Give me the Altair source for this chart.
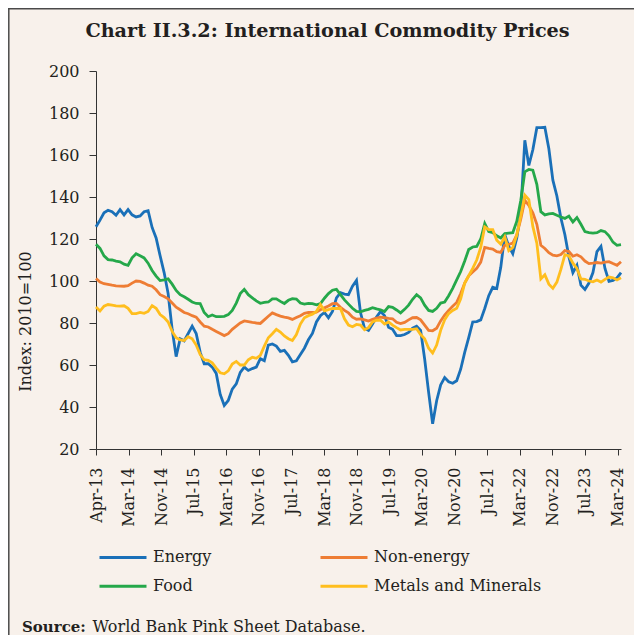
import altair as alt
import pandas as pd

months = [f"{m}-{y}" for y in range(13, 25) for m in
          ["Jan", "Feb", "Mar", "Apr", "May", "Jun", "Jul", "Aug", "Sep", "Oct", "Nov", "Dec"]][3:135]

series_names = ["Energy", "Non-energy", "Food", "Metals and Minerals"]
series_colors = ["#1a70b8", "#ee7d34", "#25a84a", "#ffbe1e"]

tick_labels = ["Apr-13", "Mar-14", "Nov-14", "Jul-15", "Mar-16", "Nov-16", "Jul-17", "Mar-18",
               "Nov-18", "Jul-19", "Mar-20", "Nov-20", "Jul-21", "Mar-22", "Nov-22", "Jul-23", "Mar-24"]

energy = [125.8, 129, 132.5, 133.7, 133, 131.3, 134, 131.5, 134, 131.5,
          130.5, 131, 133, 133.5, 125.5, 120.5, 112, 104, 94, 77,
          64, 72.5, 71.5, 75, 78.5, 75, 66, 60.6, 60.6, 59,
          56, 46, 40.7, 43.1, 48.5, 51, 56.5, 59, 57.4, 58.3,
          59, 63, 62, 69.5, 70, 69, 66.5, 67, 64.6, 61.5,
          62, 65, 68, 72, 75, 80.5, 83.5, 85, 82.5, 85.5,
          92, 94.5, 93.8, 93.5, 97.5, 100.3, 85, 77.5, 76.5, 79.5,
          82.8, 85.5, 83.5, 78, 77, 74, 74, 74.5, 75.5, 77.5,
          78.5, 76.5, 63, 47, 32, 43, 50.5, 54, 52, 51.3,
          52.5, 58, 66, 73, 80.5, 80.7, 81.5, 86.9, 93, 97,
          96.4, 106.5, 122, 116.5, 113, 120.5, 133, 167, 155, 162.5,
          173, 173, 173.2, 163, 148, 140.5, 130, 122, 111.5, 104,
          107.5, 98, 96, 99, 104, 114, 116.5, 106, 99.8, 100.3,
          101.5, 104]

non_energy = [101.2, 99.5, 98.7, 98.4, 98, 97.7, 97.6, 97.5, 97.8, 99,
              100, 99.8, 99, 98, 97.5, 95.8, 93.5, 92.6, 91.5, 89.5,
              87.5, 86.3, 85, 84.4, 83.5, 82.8, 80.5, 78.5, 78.1, 77,
              76, 75, 74, 74.9, 77, 78.5, 80, 81, 80.7, 80.3,
              80, 79.8, 81.5, 83.2, 84.8, 84, 83.3, 82.8, 82.4, 81.7,
              82.6, 83.5, 84.6, 85, 85, 85.2, 86.3, 87.2, 88.1, 89.2,
              89.3, 87.5, 86, 84.8, 82.8, 81.8, 82, 81.5, 80.9, 81.7,
              82.3, 82.8, 82.5, 82.2, 82, 80.3, 79.7, 80.3, 81.5, 82.5,
              82.6, 81.5, 79, 76.5, 76.3, 77.5, 81, 83.8, 86, 88,
              89.8, 94, 99, 102.5, 104.3, 106, 109, 116, 115.5, 115.2,
              114, 113.6, 117, 117.5, 118, 122, 129.5, 138.5, 136, 132.5,
              127, 117, 115.5, 113.5, 112.3, 112, 112.6, 114.5, 114, 111.8,
              112.5, 111.5, 109.5, 108.3, 108.5, 108.8, 108.5, 109, 109.2, 108.3,
              107.5, 109.2]

food = [117.5, 115.5, 112, 110.2, 110, 109.5, 109.1, 108, 107.5, 111,
        113, 112, 111, 108.5, 105, 102.3, 100.2, 100.5, 101, 98.5,
        95.5, 93.5, 92.5, 91.3, 90, 89.3, 89.2, 85, 83, 83.8,
        83, 83, 83.2, 84, 86, 89.5, 94, 96, 93.5, 92,
        90.5, 89.4, 89.8, 90, 91.5, 91.5, 90.3, 89.3, 90.8, 91.6,
        91.4, 89.5, 89, 89.3, 89.2, 88.7, 89.2, 91.8, 94, 95.6,
        96, 93.5, 91, 89, 87, 85.5, 85.3, 86, 86.5, 87.3,
        86.7, 86.3, 85.5, 87.8, 87.5, 86.2, 84.8, 86.5, 88.5, 91.3,
        93.5, 92, 88.5, 86, 85.5, 87, 89.5, 90, 93, 96.5,
        100.5, 104.5, 109.5, 115, 116.2, 116.5, 120, 127.4, 123.5, 123,
        121.5, 120.5, 122.6, 122.8, 123, 128.5, 138.5, 152, 153.1, 152.8,
        146, 133, 131.5, 132, 132.2, 131.3, 130.5, 129.8, 130.9, 128.1,
        130.2, 127, 123.5, 123, 122.8, 123, 124, 123.5, 121.5, 118.5,
        117, 117.3]

metals = [87.6, 85.7, 88, 88.8, 88.5, 88.2, 88, 88.2, 87, 84.5,
          84.5, 85, 84.6, 85.5, 88.3, 87, 84, 82.6, 80.5, 76,
          73, 72, 71.7, 73.5, 72.5, 69.5, 65, 62.5, 62.2, 61,
          58.5, 56.3, 55.8, 57.2, 60.5, 61.7, 60, 60, 62.5, 63.7,
          63.2, 64.6, 69, 73, 74.9, 77, 75.7, 73.8, 72.5, 71.7,
          74.5, 79.5, 82.5, 83.5, 84.2, 85.5, 88.8, 85.8, 86.4, 86.9,
          86.9, 86.9, 82, 79, 78.2, 79.3, 79, 76.8, 77.8, 80.5,
          81.3, 81.3, 79.5, 80.5, 79, 77.8, 76.7, 77, 77, 77,
          77.3, 74.5, 72.5, 68, 65.7, 69.5, 76.5, 81.5, 84.5, 86,
          87, 91.5, 99, 102.5, 106, 110, 116, 125.8, 124.5, 124.5,
          119.4, 117.5, 121, 114.5, 116, 122, 131, 140.9, 138.8, 126,
          118, 101, 103, 98.5, 96.5, 99.5, 105.5, 112.5, 112, 108.5,
          106, 101, 100.8, 100, 99.6, 100.5, 99.5, 100.8, 101.9, 101.5,
          100.5, 101.5]

rows = []
for name, vals in zip(series_names, [energy, non_energy, food, metals]):
    for i, v in enumerate(vals):
        rows.append({"idx": i, "month": months[i], "series": name, "value": v})
df = pd.DataFrame(rows)

FONT = "DejaVu Serif"
TXT = "#231f20"
n_ticks = len(tick_labels)
tick_step = 8.134
tick_vals = [k * tick_step for k in range(n_ticks)]
label_expr = "[" + ",".join(f"'{t}'" for t in tick_labels) + f"][round(datum.value/{tick_step})]"

lines = alt.Chart(df).mark_line(strokeWidth=2.8).encode(
    x=alt.X("idx:Q",
            scale=alt.Scale(domain=[0, len(months) - 1], nice=False, zero=False),
            axis=alt.Axis(values=tick_vals, labelExpr=label_expr, labelAngle=270,
                          labelAlign="right", labelBaseline="middle", labelPadding=12,
                          tickSize=6, grid=False, title=None, labelFont=FONT,
                          labelFontSize=16, labelColor=TXT, domainColor="#333333",
                          tickColor="#333333", labelOverlap=False, labelBound=False)),
    y=alt.Y("value:Q",
            scale=alt.Scale(domain=[20, 200], nice=False, zero=False),
            axis=alt.Axis(values=list(range(20, 201, 20)), grid=False, tickSize=7,
                          labelPadding=10, labelFont=FONT, labelFontSize=16, labelColor=TXT,
                          domainColor="#333333", tickColor="#333333",
                          title="Index: 2010=100", titleFont=FONT, titleFontSize=16,
                          titleFontWeight="normal", titleColor=TXT, titleX=-71, titleY=250,
                          titleAngle=270, titleAlign="center", titleBaseline="middle")),
    color=alt.Color("series:N",
                    scale=alt.Scale(domain=series_names, range=series_colors),
                    sort=series_names,
                    legend=alt.Legend(title=None, orient="none", legendX=17.5, legendY=476.7,
                                      direction="horizontal",
                                      columns=2, columnPadding=103, rowPadding=11,
                                      symbolType="M-3,0H3", symbolSize=245.4,
                                      symbolStrokeWidth=3, labelFont=FONT,
                                      labelFontSize=16, labelColor=TXT, labelOffset=20.5,
                                      labelLimit=400, padding=0)),
    order=alt.Order("idx:Q"),
)

title_df = pd.DataFrame({"t": ["Chart II.3.2: International Commodity Prices"]})
title = alt.Chart(title_df).mark_text(font=FONT, fontSize=19.2, fontWeight="bold",
                                      color=TXT, align="center", baseline="alphabetic").encode(
    x=alt.value(231.5), y=alt.value(-34), text="t:N")

src1 = alt.Chart(pd.DataFrame({"t": ["Source:"]})).mark_text(
    font=FONT, fontSize=15, fontWeight="bold", color=TXT, align="left",
    baseline="alphabetic").encode(x=alt.value(-74), y=alt.value(560.5), text="t:N")
src2 = alt.Chart(pd.DataFrame({"t": ["World Bank Pink Sheet Database."]})).mark_text(
    font=FONT, fontSize=16, color=TXT, align="left",
    baseline="alphabetic").encode(x=alt.value(-3.5), y=alt.value(560.5), text="t:N")

frame_left = alt.Chart(pd.DataFrame({"a": [0]})).mark_rule(color="#4a4a4a", strokeWidth=1.5).encode(
    x=alt.value(-87.2), y=alt.value(-63), y2=alt.value(564))
frame_top = alt.Chart(pd.DataFrame({"a": [0]})).mark_rule(color="#4a4a4a", strokeWidth=1.5).encode(
    x=alt.value(-88), x2=alt.value(538), y=alt.value(-62.2))

chart = alt.layer(lines, title, src1, src2, frame_left, frame_top).properties(
    width=525, height=378,
    autosize=alt.AutoSizeParams(type="none"),
    padding={"left": 88, "top": 63, "right": 13, "bottom": 186},
    background="#f8f1eb",
).configure_view(stroke=None)

chart.save("out.html", embed_options={"renderer": "svg", "actions": False})
